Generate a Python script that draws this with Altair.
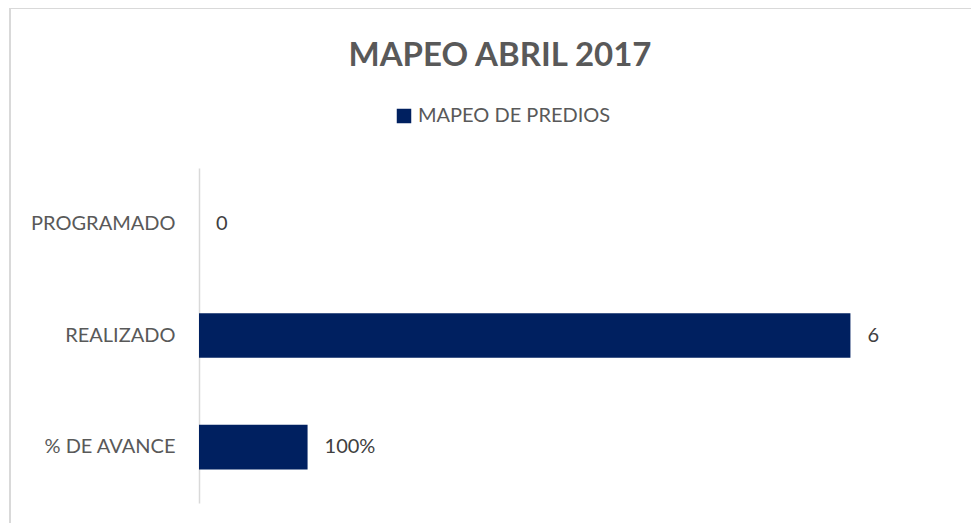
import altair as alt
import pandas as pd

categories = ["PROGRAMADO", "REALIZADO", "% DE AVANCE"]
values = [0, 6, 1]
value_labels = ["0", "6", "100%"]
series_name = "MAPEO DE PREDIOS"

df = pd.DataFrame({
    "categoria": categories,
    "valor": values,
    "etiqueta": value_labels,
    "serie": [series_name] * len(categories),
})

FONT = "Lato"
W, H = 760, 335

y_enc = alt.Y("categoria:N", sort=categories, title=None,
              scale=alt.Scale(paddingInner=0.6, paddingOuter=0.3),
              axis=alt.Axis(domainColor="#d9d9d9", domainWidth=1.5, ticks=False,
                            labelFontSize=20, labelColor="#595959", labelFont=FONT,
                            labelPadding=24, labelLimit=300))
x_enc = alt.X("valor:Q", scale=alt.Scale(domain=[0, 7]), axis=None)

bars = alt.Chart(df).mark_bar(cornerRadius=0).encode(
    x=x_enc,
    y=y_enc,
    color=alt.Color("serie:N", scale=alt.Scale(range=["#002060"]),
                    legend=alt.Legend(title=None, orient="none", legendX=195, legendY=-62,
                                      symbolType="square", symbolSize=210,
                                      symbolStrokeWidth=0, labelLimit=400,
                                      labelFontSize=20, labelColor="#595959",
                                      labelFont=FONT, labelOffset=4)),
)

texts = alt.Chart(df).mark_text(align="left", dx=17, fontSize=20, color="#404040",
                                font=FONT).encode(
    x=x_enc, y=alt.Y("categoria:N", sort=categories), text="etiqueta:N")

border_top = alt.Chart(df).mark_rule(color="#d9d9d9", strokeWidth=1.5).encode(
    x=alt.value(-189), x2=alt.value(800), y=alt.value(-160))
border_left = alt.Chart(df).mark_rule(color="#d9d9d9", strokeWidth=1.5).encode(
    x=alt.value(-189), y=alt.value(-160), y2=alt.value(400))

chart = alt.layer(border_top, border_left, bars, texts).properties(
    width=W, height=H,
    autosize=alt.AutoSizeParams(type="none"),
    padding={"left": 191, "top": 160, "right": 12, "bottom": 20},
    title=alt.TitleParams("MAPEO ABRIL 2017", fontSize=33, font=FONT, fontWeight="bold",
                          color="#595959", anchor="middle", dx=-79, offset=-66),
).configure_view(stroke=None)

chart.save("out.html", embed_options={"renderer": "svg", "actions": False})
